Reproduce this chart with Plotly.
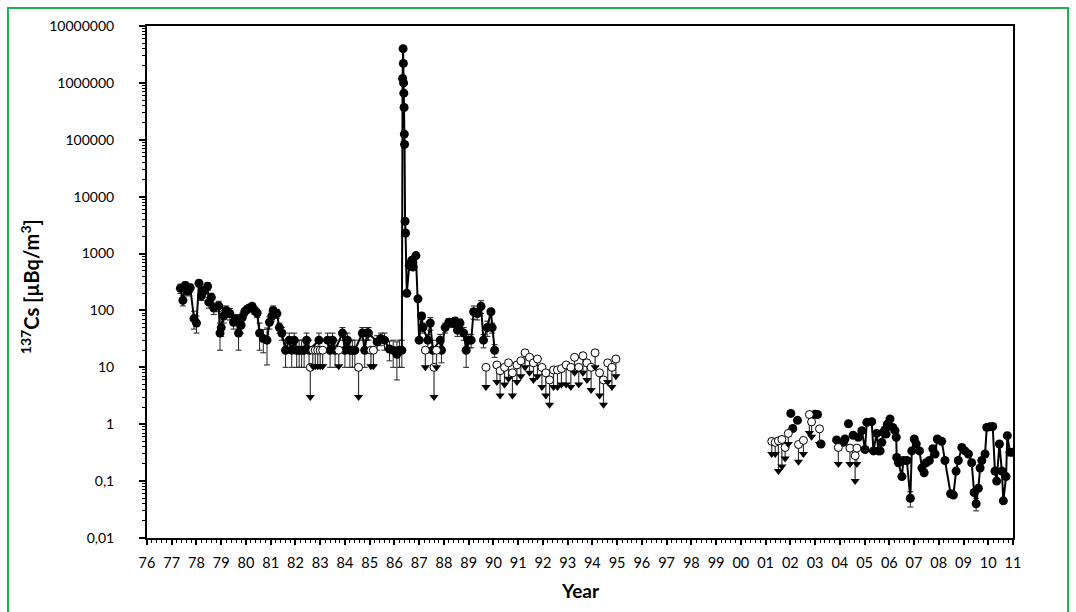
import plotly.graph_objects as go

# ---------------- data ----------------
# Filled circles 1977-1990 (connected)
yr_a = [1977.35, 1977.45, 1977.55, 1977.65, 1977.75, 1977.90, 1978.00, 1978.10, 1978.20, 1978.30,
        1978.45, 1978.50, 1978.60, 1978.70, 1978.90, 1978.95, 1979.00, 1979.10, 1979.20, 1979.35,
        1979.50, 1979.60, 1979.70, 1979.80, 1979.85, 1979.95, 1980.05, 1980.15, 1980.25, 1980.35,
        1980.45, 1980.55, 1980.70, 1980.85, 1980.95, 1981.05, 1981.10, 1981.25, 1981.35, 1981.45,
        1981.60, 1981.75, 1981.85, 1981.95, 1982.05, 1982.15, 1982.25, 1982.35, 1982.45, 1982.55,
        1982.95, 1983.30, 1983.40, 1983.50, 1983.60, 1983.90, 1984.00, 1984.10, 1984.20, 1984.30,
        1984.40, 1984.70, 1984.80, 1984.90, 1984.95, 1985.30, 1985.45, 1985.60, 1985.80, 1985.95,
        1986.10, 1986.20, 1986.30, 1986.33, 1986.35, 1986.36, 1986.37, 1986.38, 1986.39, 1986.40,
        1986.41, 1986.43, 1986.45, 1986.50, 1986.60, 1986.70, 1986.75, 1986.87, 1986.95, 1987.00,
        1987.10, 1987.15, 1987.35, 1987.45, 1987.55, 1987.85, 1987.90, 1988.05, 1988.20, 1988.35,
        1988.45, 1988.55, 1988.65, 1988.80, 1988.90, 1989.00, 1989.10, 1989.20, 1989.35, 1989.50,
        1989.60, 1989.75, 1989.90, 1989.95, 1990.05]
cs_a = [245, 150, 275, 220, 250, 72, 60, 300, 180, 225,
        265, 140, 170, 110, 120, 40, 50, 80, 100, 88,
        62, 70, 40, 55, 75, 95, 105, 112, 118, 100,
        90, 40, 32, 30, 62, 80, 100, 88, 50, 40,
        20, 30, 20, 30, 20, 20, 20, 20, 30, 20,
        30, 30, 20, 30, 20, 40, 20, 30, 20, 20,
        20, 40, 20, 40, 40, 28, 32, 30, 21, 20,
        17, 20, 20, 1200000, 4000000, 2200000, 1000000, 660000, 370000, 126000,
        83000, 3700, 2300, 200, 620, 760, 580, 920, 160, 30,
        80, 50, 30, 60, 20, 30, 20, 50, 62, 60,
        65, 45, 60, 40, 20, 30, 30, 95, 88, 118,
        30, 50, 95, 50, 20]
err_a = [45, 30, 40, 40, 40, 25, 20, 40, 30, 35,
         40, 30, 30, 25, 25, 20, 15, 20, 20, 20,
         15, 15, 20, 15, 15, 15, 15, 15, 15, 15,
         15, 20, 14, 19, 15, 15, 20, 15, 10, 10,
         10, 10, 10, 10, 10, 10, 10, 10, 10, 10,
         10, 10, 10, 10, 10, 10, 10, 10, 10, 10,
         10, 10, 10, 10, 10, 8, 8, 10, 8, 10,
         11, 10, 10, 0, 0, 0, 0, 0, 0, 0,
         0, 0, 0, 0, 0, 0, 0, 0, 0, 0,
         10, 10, 8, 15, 10, 8, 8, 10, 10, 10,
         10, 10, 10, 10, 10, 8, 8, 25, 20, 30,
         8, 15, 10, 10, 5]

# Filled circles 2002-2004 (isolated)
yr_b = [2002.02, 2002.10, 2002.29, 2003.00, 2003.10, 2003.24, 2003.87, 2004.15, 2004.21, 2004.35, 2004.54]
cs_b = [1.55, 0.84, 1.17, 1.50, 1.48, 0.45, 0.53, 0.48, 0.55, 1.02, 0.64]

# Filled circles 2004.7-2011 (connected)
yr_c = [2004.75, 2004.89, 2005.02, 2005.09, 2005.29, 2005.36, 2005.49, 2005.56, 2005.63, 2005.70,
        2005.76, 2005.83, 2005.87, 2005.92, 2006.03, 2006.14, 2006.23, 2006.28, 2006.30, 2006.37,
        2006.51, 2006.57, 2006.71, 2006.85, 2006.91, 2007.01, 2007.09, 2007.22, 2007.32, 2007.41,
        2007.49, 2007.62, 2007.76, 2007.85, 2007.94, 2008.12, 2008.25, 2008.48, 2008.59, 2008.70,
        2008.79, 2008.93, 2009.06, 2009.20, 2009.33, 2009.43, 2009.51, 2009.60, 2009.67, 2009.74,
        2009.87, 2009.94, 2010.07, 2010.18, 2010.27, 2010.34, 2010.45, 2010.55, 2010.61, 2010.72,
        2010.77, 2010.88, 2010.99]
cs_c = [0.59, 0.77, 0.36, 1.08, 1.11, 0.34, 0.69, 0.34, 0.34, 0.48,
        0.72, 0.80, 0.67, 1.00, 1.24, 0.88, 0.77, 0.59, 0.26, 0.21,
        0.12, 0.23, 0.23, 0.05, 0.34, 0.55, 0.45, 0.34, 0.17, 0.14,
        0.21, 0.23, 0.37, 0.30, 0.55, 0.50, 0.23, 0.06, 0.057, 0.15,
        0.23, 0.39, 0.34, 0.30, 0.21, 0.063, 0.04, 0.075, 0.17, 0.23,
        0.30, 0.88, 0.90, 0.91, 0.15, 0.10, 0.45, 0.15, 0.045, 0.12,
        0.63, 0.32, 0.32]
err_c = [0, 0, 0, 0, 0, 0, 0, 0, 0, 0,
         0, 0, 0, 0, 0, 0, 0, 0, 0, 0,
         0, 0, 0, 0.015, 0, 0, 0, 0, 0, 0,
         0, 0, 0, 0, 0, 0, 0, 0, 0, 0,
         0, 0, 0, 0, 0, 0, 0.01, 0, 0, 0,
         0, 0, 0, 0, 0, 0, 0, 0, 0, 0,
         0, 0, 0]

# Open circles: values below detection limit (limit and arrow end)
yr_dl = [1982.60, 1982.70, 1982.80, 1982.90, 1983.00, 1983.10, 1983.75, 1984.55, 1985.05, 1985.15,
         1987.25, 1987.60, 1987.70,
         1989.70, 1990.14, 1990.27, 1990.45, 1990.61, 1990.77, 1990.95, 1991.11, 1991.28, 1991.46,
         1991.62, 1991.78, 1991.96, 1992.12, 1992.27, 1992.43, 1992.59, 1992.75, 1992.94, 1993.13,
         1993.28, 1993.45, 1993.62, 1993.78, 1993.95, 1994.11, 1994.29, 1994.45, 1994.62, 1994.79,
         1994.95,
         2001.25, 2001.39, 2001.52, 2001.66, 2001.79, 2001.92, 2002.33, 2002.53, 2002.77, 2002.86,
         2003.18, 2003.94, 2004.41, 2004.62, 2004.69]
cs_dl = [10, 20, 20, 20, 20, 20, 20, 10, 20, 20,
         20, 10, 20,
         10, 11, 8.7, 10, 12, 8, 11, 13, 18, 15,
         12, 14, 10, 8, 6, 9, 9, 9.5, 11, 10,
         15, 10, 16, 12, 10, 18, 8, 6, 12, 10,
         14,
         0.50, 0.48, 0.51, 0.54, 0.39, 0.69, 0.44, 0.52, 1.48, 1.10,
         0.83, 0.39, 0.38, 0.28, 0.38]
cs_dl_end = [3, 10.5, 10.5, 10.5, 10.5, 10.5, 10.5, 3, 10.5, 10.5,
             10, 3, 10,
             4.5, 5.5, 3.2, 5, 6.3, 3.2, 5.5, 7, 10, 8,
             6, 7, 4.5, 3.2, 2.2, 4.5, 4.5, 5, 5, 4.5,
             8, 5, 8, 6, 4, 10, 3.2, 2.2, 5.5, 4.5,
             7,
             0.30, 0.30, 0.15, 0.18, 0.25, 0.45, 0.22, 0.30, 0.70, 0.60,
             0.45, 0.20, 0.20, 0.10, 0.20]

y_tick_vals = [0.01, 0.1, 1, 10, 100, 1000, 10000, 100000, 1000000, 10000000]
y_tick_text = ["0,01", "0,1", "1", "10", "100", "1000", "10000", "100000", "1000000", "10000000"]
x_tick_vals = list(range(1976, 2012))
x_tick_text = ["76", "77", "78", "79", "80", "81", "82", "83", "84", "85", "86", "87", "88", "89",
               "90", "91", "92", "93", "94", "95", "96", "97", "98", "99", "00", "01", "02", "03",
               "04", "05", "06", "07", "08", "09", "10", "11"]
y_minor_vals = [m * 10.0 ** e for e in range(-2, 7) for m in range(2, 10)]

# ---------------- figure ----------------
fig = go.Figure()

fig.add_trace(go.Scatter(
    x=yr_a, y=cs_a, mode="lines+markers",
    line=dict(color="black", width=2),
    marker=dict(symbol="circle", size=9, color="black"),
    error_y=dict(type="data", array=err_a, color="#222222", thickness=1, width=3),
    showlegend=False))
fig.add_trace(go.Scatter(
    x=yr_b, y=cs_b, mode="markers",
    marker=dict(symbol="circle", size=9, color="black"),
    showlegend=False))
fig.add_trace(go.Scatter(
    x=yr_c, y=cs_c, mode="lines+markers",
    line=dict(color="black", width=2),
    marker=dict(symbol="circle", size=9, color="black"),
    error_y=dict(type="data", array=err_c, color="#222222", thickness=1, width=3),
    showlegend=False))

arrow_minus = [v - e for v, e in zip(cs_dl, cs_dl_end)]
fig.add_trace(go.Scatter(
    x=yr_dl, y=cs_dl, mode="markers",
    marker=dict(symbol="circle", size=8, color="white", line=dict(color="black", width=1)),
    error_y=dict(type="data", symmetric=False, array=[0] * len(cs_dl), arrayminus=arrow_minus,
                 color="#333333", thickness=1.2, width=0),
    showlegend=False, hoverinfo="x+y"))
fig.add_trace(go.Scatter(
    x=yr_dl, y=cs_dl_end, mode="markers",
    marker=dict(symbol="triangle-down", size=8, color="black"),
    showlegend=False, hoverinfo="skip"))

font_family = "Lato, Open Sans, sans-serif"

fig.update_layout(
    width=1076, height=612,
    margin=dict(l=147, r=63, t=26, b=74),
    paper_bgcolor="white", plot_bgcolor="white",
    font=dict(family=font_family, color="black"),
    showlegend=False,
    xaxis=dict(
        range=[1976, 2011], tickmode="array", tickvals=x_tick_vals, ticktext=x_tick_text,
        ticks="outside", ticklen=5, tickwidth=1.5, tickcolor="black",
        showline=True, linecolor="black", linewidth=2, mirror=True,
        showgrid=False, zeroline=False,
        tickfont=dict(size=14.5, family=font_family, color="black"),
        ticklabelstandoff=6,
        minor=dict(tick0=1976, dtick=0.2, ticks="outside", ticklen=3, tickwidth=1, tickcolor="black",
                   showgrid=False),
    ),
    yaxis=dict(
        type="log", range=[-2, 7], tickmode="array", tickvals=y_tick_vals, ticktext=y_tick_text,
        ticks="outside", ticklen=6, tickwidth=1.5, tickcolor="black",
        showline=True, linecolor="black", linewidth=2, mirror=True,
        showgrid=False, zeroline=False,
        tickfont=dict(size=14, family=font_family, color="black"),
        ticklabelstandoff=22,
        minor=dict(tickmode="array", tickvals=y_minor_vals, ticks="outside", ticklen=3,
                   tickwidth=1, tickcolor="black", showgrid=False),
    ),
    annotations=[
        dict(text="<b><sup>137</sup>Cs [µBq/m<sup>3</sup>]</b>", xref="paper", yref="paper",
             x=-0.135, y=0.49, xanchor="center", yanchor="middle", textangle=-90,
             showarrow=False, font=dict(size=20, family=font_family, color="black")),
        dict(text="<b>Year</b>", xref="paper", yref="paper", x=0.5, y=-0.102,
             xanchor="center", yanchor="middle", showarrow=False,
             font=dict(size=19, family=font_family, color="black")),
    ],
    shapes=[
        dict(type="rect", xref="paper", yref="paper", x0=-0.1605, x1=1.0635, y0=-0.2, y1=1.035,
             line=dict(color="#1FB050", width=2), fillcolor="rgba(0,0,0,0)", layer="below"),
    ],
)

fig.write_html("out.html")
